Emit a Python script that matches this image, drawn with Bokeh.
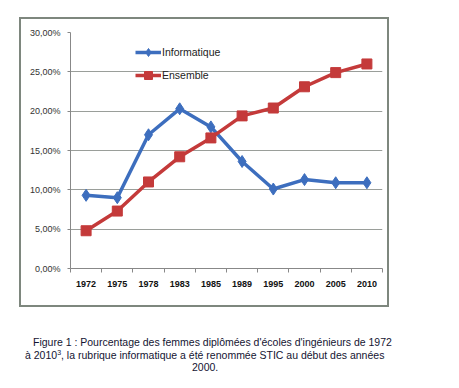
from bokeh.plotting import figure
from bokeh.layouts import column, row
from bokeh.models import (Range1d, FixedTicker, Legend, LegendItem, ColumnDataSource, Spacer, Div)
from bokeh.embed import file_html
from bokeh.resources import INLINE

# ---------------- data ----------------
years = ["1972", "1975", "1978", "1983", "1985", "1989", "1995", "2000", "2005", "2010"]
informatique = [9.3, 9.0, 17.0, 20.3, 18.0, 13.6, 10.1, 11.3, 10.9, 10.9]
ensemble = [4.8, 7.3, 11.0, 14.2, 16.6, 19.4, 20.4, 23.1, 24.9, 26.0]
series_names = ["Informatique", "Ensemble"]
y_ticks = [0, 5, 10, 15, 20, 25, 30]
y_tick_labels = ["0,00%", "5,00%", "10,00%", "15,00%", "20,00%", "25,00%", "30,00%"]
caption_lines = [
    "Figure 1 : Pourcentage des femmes diplômées d'écoles d'ingénieurs de 1972",
    "à 2010<sup style='font-size:7px;line-height:0'>3</sup>, la rubrique informatique a été renommée STIC au début des années",
    "2000.",
]

BLUE = "#3D6EBE"
RED = "#C43A3A"
AXIS = "#888888"
GRID = "#9A9E9A"
FONT = "Liberation Sans"

# category slots: centre of slot i is at i + 0.5
x_pos = [i + 0.5 for i in range(len(years))]
x_bounds = list(range(len(years) + 1))

src = ColumnDataSource(dict(x=x_pos, info=informatique, ens=ensemble))

p = figure(width=370, height=290, x_range=Range1d(0, len(years)), y_range=Range1d(y_ticks[0], y_ticks[-1]),
           toolbar_location=None, output_backend="svg",
           min_border_left=49, min_border_right=9, min_border_top=13, min_border_bottom=41)
p.outline_line_color = None
p.background_fill_color = "white"
p.border_fill_color = "white"
p.styles = {"border": "2px solid #7E877E"}

# y axis
ya = p.yaxis[0]
ya.ticker = FixedTicker(ticks=y_ticks, minor_ticks=[])
ya.major_label_overrides = dict(zip(y_ticks, y_tick_labels))
ya.axis_line_color = AXIS
ya.major_tick_line_color = AXIS
ya.major_tick_in = 0
ya.major_tick_out = 3
ya.minor_tick_line_color = None
ya.major_label_standoff = 7
ya.major_label_text_font = FONT
ya.major_label_text_font_size = "9px"
ya.major_label_text_color = "#333333"

p.ygrid.ticker = FixedTicker(ticks=y_ticks[1:])
p.ygrid.grid_line_color = GRID
p.xgrid.grid_line_color = None

# x axis: labels at slot centres, tick marks at slot boundaries
xa = p.xaxis[0]
xa.ticker = FixedTicker(ticks=x_pos, minor_ticks=x_bounds)
xa.major_label_overrides = dict(zip(x_pos, years))
xa.axis_line_color = AXIS
xa.major_tick_line_color = None
xa.major_tick_out = 0
xa.major_tick_in = 0
xa.minor_tick_line_color = AXIS
xa.minor_tick_out = 4
xa.minor_tick_in = 0
xa.major_label_standoff = 8
xa.major_label_text_font = FONT
xa.major_label_text_font_size = "9px"
xa.major_label_text_font_style = "bold"
xa.major_label_text_color = "#111111"

# series
l1 = p.line("x", "info", source=src, color=BLUE, line_width=3.5)
m1 = p.scatter("x", "info", source=src, marker="diamond", size=12, color=BLUE)
l2 = p.line("x", "ens", source=src, color=RED, line_width=3.5)
m2 = p.scatter("x", "ens", source=src, marker="square", size=10, color=RED)

legend = Legend(items=[LegendItem(label=series_names[0], renderers=[l1, m1]),
                       LegendItem(label=series_names[1], renderers=[l2, m2])],
                location=(65, 183), background_fill_alpha=0, border_line_color=None,
                glyph_width=26, glyph_height=20, label_height=20, spacing=3, padding=0, margin=0,
                label_text_font=FONT, label_text_font_size="10.5px", label_standoff=1,
                label_text_color="#222222")
p.add_layout(legend)

# caption
left_offsets = [33, 25, 192]
html = "".join(
    f"<div style='margin-left:{off}px;white-space:nowrap;height:12.5px;line-height:12.5px'>{txt}</div>"
    for txt, off in zip(caption_lines, left_offsets)
)
cap = Div(text=html, width=450, height=70, margin=0,
          styles={"font-family": FONT, "font-size": "10.5px", "line-height": "12.5px",
                  "color": "#141432", "padding-top": "29px"})

layout = column(Spacer(height=17), row(Spacer(width=19), p), cap, spacing=0)
open("out.html", "w").write(file_html(layout, INLINE))
